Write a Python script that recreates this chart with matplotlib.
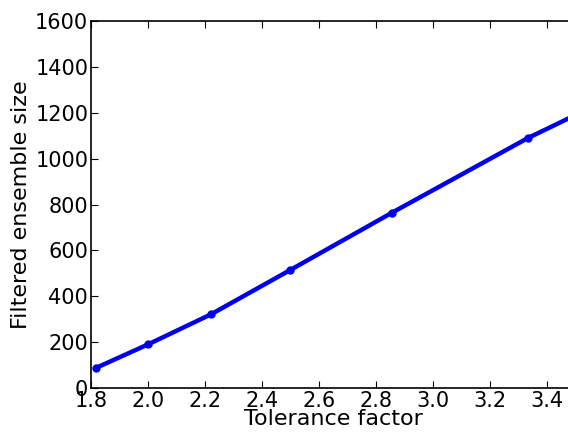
import matplotlib
matplotlib.use("Agg")
import matplotlib.pyplot as plt

# tolerance factor = 1 / threshold
tolerance = [1 / 0.55, 1 / 0.50, 1 / 0.45, 1 / 0.40, 1 / 0.35, 1 / 0.30, 1 / 0.25]
ensemble_size = [88, 190, 322, 515, 765, 1090, 1490]

fig = plt.figure(figsize=(5.68, 4.34), dpi=100)
# axes run a little past the right edge of the figure (cropped original)
ax = fig.add_axes([0.1602, 0.106, 0.853, 0.8456])

ax.plot(tolerance, ensemble_size, color="#0000f0", linewidth=3.2,
        marker="o", markersize=5)

ax.set_xlim(1.8, 3.5)
ax.set_ylim(0, 1600)
ax.set_xticks([1.8, 2.0, 2.2, 2.4, 2.6, 2.8, 3.0, 3.2, 3.4])
ax.set_yticks(range(0, 1601, 200))
ax.tick_params(direction="in", top=True, right=True, labelsize=15,
               length=5, width=0.8, pad=2)
for s in ax.spines.values():
    s.set_linewidth(1.2)

ax.set_xlabel("Tolerance factor", fontsize=16, labelpad=-1)
ax.set_ylabel("Filtered ensemble size", fontsize=16, labelpad=3)

fig.savefig("out.png", dpi=100)
